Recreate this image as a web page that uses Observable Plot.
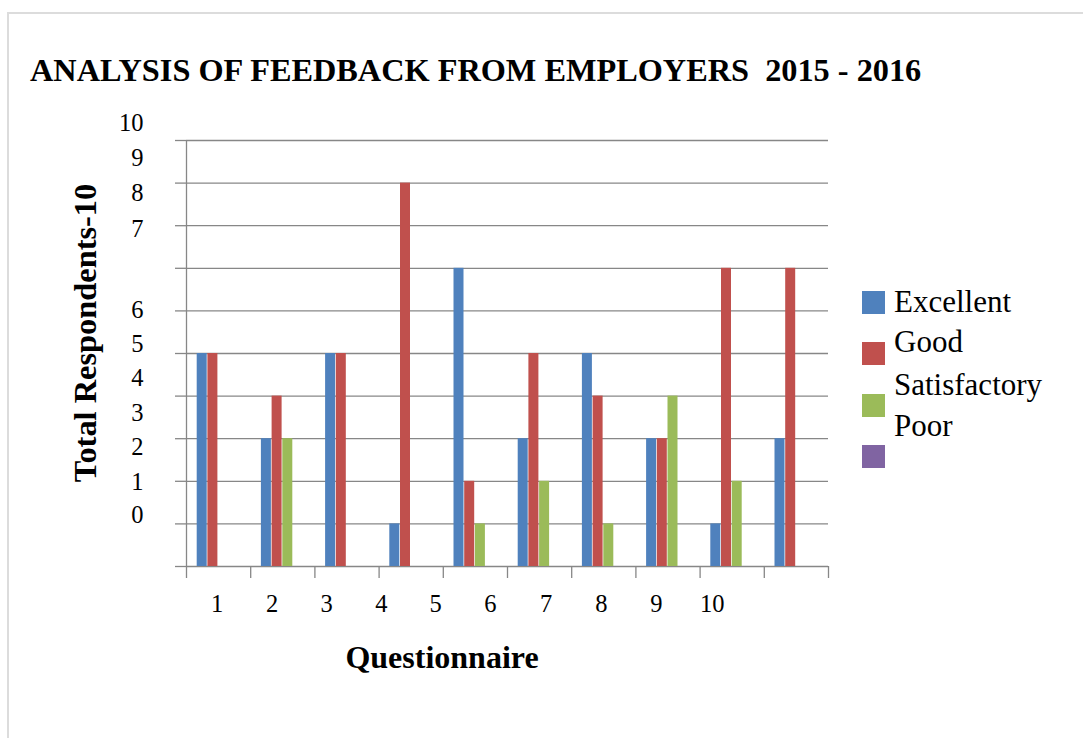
<!DOCTYPE html>
<html><head><meta charset="utf-8">
<script src="https://cdn.jsdelivr.net/npm/d3@7"></script>
<script src="https://cdn.jsdelivr.net/npm/@observablehq/plot@0.6"></script>
<style>
body{margin:0;background:#fff;}
#wrap{position:relative;width:1083px;height:738px;overflow:hidden;background:#fff;font-family:"Liberation Serif","Times New Roman",serif;}
#frame{position:absolute;left:7px;top:12px;width:1100px;height:800px;border:2px solid #dcdcdc;box-sizing:border-box;}
#chart{position:absolute;left:0;top:0;}
#overlay{position:absolute;left:0;top:0;}
</style></head><body>
<div id="wrap"><div id="frame"></div><div id="chart"></div><svg id="overlay" width="1083" height="738"></svg></div>
<script>
const questions = ["1","2","3","4","5","6","7","8","9","10"];
const seriesNames = ["Excellent","Good","Satisfactory","Poor"];
const excellent    = [5,3,5,1,7,3,5,3,1,3];
const good         = [5,4,5,9,2,5,4,3,7,7];
const satisfactory = [0,3,0,0,1,2,1,4,2,0];
const poor         = [0,0,0,0,0,0,0,0,0,0];
const seriesColors = ["#4F81BD","#C0504D","#9BBB59","#8064A2"];
const gridValues = [0,1,2,3,4,5,6,7,8,9,10];
const xTickLabels = questions;
const xTickAt = [0.478,1.335,2.181,3.037,3.879,4.735,5.603,6.464,7.317,8.189];
const yTickLabels = ["10","9","8","7","6","5","4","3","2","1","0"];
const yTickAt = [10.4,9.58,8.76,7.93,6.01,5.23,4.41,3.59,2.79,1.97,1.2];

const seriesValues = [excellent, good, satisfactory, poor];
const rows = [];
questions.forEach((q, i) => seriesNames.forEach((s, j) =>
  rows.push({q: i, s: j, series: s, value: seriesValues[j][i]})));

const gray = "#878787";
const serif = "'Liberation Serif', 'Times New Roman', serif";
const plot = Plot.plot({
  width: 1083, height: 738,
  marginLeft: 186, marginRight: 255, marginTop: 140, marginBottom: 172,
  style: {fontFamily: serif, background: "transparent"},
  x: {domain: [0, 10]},
  y: {domain: [0, 10]},
  color: {domain: seriesNames, range: seriesColors},
  marks: [
    Plot.gridY(gridValues, {stroke: gray, strokeOpacity: 1, strokeWidth: 1.3}),
    Plot.axisY(gridValues, {tickSize: 11, tickFormat: () => "", stroke: gray, strokeWidth: 1.3, label: null}),
    Plot.axisX(gridValues, {tickSize: 12, tickFormat: () => "", stroke: gray, strokeWidth: 1.3, label: null}),
    Plot.ruleX([0], {stroke: gray, strokeWidth: 1.3}),
    Plot.rect(rows, {
      x1: d => d.q + (d.s + 1) / 6,
      x2: d => d.q + (d.s + 2) / 6,
      y1: 0, y2: "value", fill: "series", insetLeft: 0, insetRight: 0.7
    }),
    Plot.text(xTickLabels, {x: (d, i) => xTickAt[i], frameAnchor: "bottom", dy: 45, text: d => d, fontSize: 24.5, fontFamily: serif, fill: "#000"}),
    Plot.text(yTickLabels, {y: (d, i) => yTickAt[i], frameAnchor: "left", dx: -43, textAnchor: "end", text: d => d, fontSize: 24.5, fontFamily: serif, fill: "#000"})
  ]
});
document.getElementById("chart").appendChild(plot);

const color = plot.scale("color");
const ov = d3.select("#overlay").style("font-family", serif);
ov.append("text").attr("x", 30).attr("y", 81).attr("font-size", 32.3).attr("font-weight", "bold")
  .style("white-space", "pre").text("ANALYSIS OF FEEDBACK FROM EMPLOYERS  2015 - 2016");
ov.append("text").attr("x", 442).attr("y", 668).attr("text-anchor", "middle").attr("font-size", 32).attr("font-weight", "bold").text("Questionnaire");
ov.append("text").attr("transform", "translate(96,333) rotate(-90)").attr("text-anchor", "middle").attr("font-size", 32.4).attr("font-weight", "bold").text("Total Respondents-10");

const swatchTop = [291, 342, 394, 445];
const labelBase = [312, 352, 395, 436];
seriesNames.forEach((s, i) => {
  ov.append("rect").attr("x", 862).attr("y", swatchTop[i]).attr("width", 23).attr("height", 23).attr("fill", color.apply(s));
  ov.append("text").attr("x", 894).attr("y", labelBase[i]).attr("font-size", 31).text(s);
});
</script>
</body></html>
